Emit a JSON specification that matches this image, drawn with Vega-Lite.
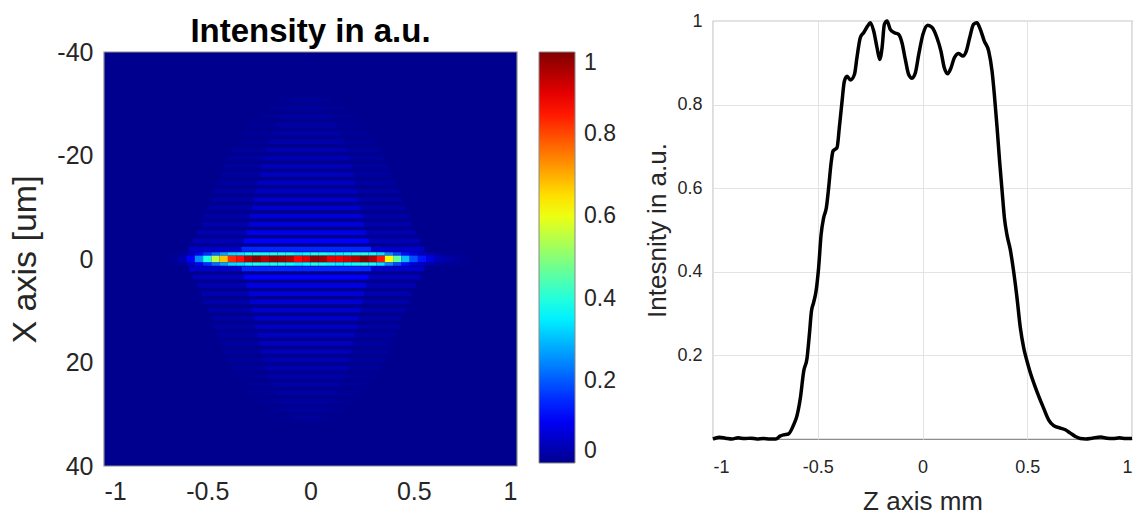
{
"$schema":"https://vega.github.io/schema/vega-lite/v6.json",
"padding":{"left":8,"top":11,"right":5,"bottom":5},
"background":"white",
"spacing":-3,
"resolve":{"scale":{"color":"independent"},"legend":{"color":"independent"}},
"config":{"font":"Liberation Sans","view":{"stroke":"#8c8c8c","strokeWidth":1.2},"axis":{"labelColor":"#262626","titleColor":"#262626","domain":false,"ticks":false}},
"datasets":{
"heat":[
{"z0":-1,"z1":1,"x0":-40,"x1":40,"v":0},
{"z0":-0.59,"z1":-0.334,"x0":-2.35,"x1":-1.45,"v":0.06},{"z0":-0.334,"z1":0.294,"x0":-2.35,"x1":-1.45,"v":0.15},{"z0":0.294,"z1":0.55,"x0":-2.35,"x1":-1.45,"v":0.06},
{"z0":-0.59,"z1":-0.334,"x0":1.45,"x1":2.35,"v":0.06},{"z0":-0.334,"z1":0.294,"x0":1.45,"x1":2.35,"v":0.15},{"z0":0.294,"z1":0.55,"x0":1.45,"x1":2.35,"v":0.06},
{"z0":-0.57,"z1":-0.323,"x0":-3.95,"x1":-3.05,"v":0.042},{"z0":-0.323,"z1":0.283,"x0":-3.95,"x1":-3.05,"v":0.108},{"z0":0.283,"z1":0.53,"x0":-3.95,"x1":-3.05,"v":0.042},
{"z0":-0.57,"z1":-0.323,"x0":3.05,"x1":3.95,"v":0.042},{"z0":-0.323,"z1":0.283,"x0":3.05,"x1":3.95,"v":0.108},{"z0":0.283,"z1":0.53,"x0":3.05,"x1":3.95,"v":0.042},
{"z0":-0.55,"z1":-0.31,"x0":-5.55,"x1":-4.65,"v":0.034},{"z0":-0.31,"z1":0.27,"x0":-5.55,"x1":-4.65,"v":0.084},{"z0":0.27,"z1":0.51,"x0":-5.55,"x1":-4.65,"v":0.034},
{"z0":-0.55,"z1":-0.31,"x0":4.65,"x1":5.55,"v":0.034},{"z0":-0.31,"z1":0.27,"x0":4.65,"x1":5.55,"v":0.084},{"z0":0.27,"z1":0.51,"x0":4.65,"x1":5.55,"v":0.034},
{"z0":-0.53,"z1":-0.3,"x0":-7.15,"x1":-6.25,"v":0.029},{"z0":-0.3,"z1":0.26,"x0":-7.15,"x1":-6.25,"v":0.072},{"z0":0.26,"z1":0.49,"x0":-7.15,"x1":-6.25,"v":0.029},
{"z0":-0.53,"z1":-0.3,"x0":6.25,"x1":7.15,"v":0.029},{"z0":-0.3,"z1":0.26,"x0":6.25,"x1":7.15,"v":0.072},{"z0":0.26,"z1":0.49,"x0":6.25,"x1":7.15,"v":0.029},
{"z0":-0.52,"z1":-0.295,"x0":-8.75,"x1":-7.85,"v":0.026},{"z0":-0.295,"z1":0.255,"x0":-8.75,"x1":-7.85,"v":0.066},{"z0":0.255,"z1":0.48,"x0":-8.75,"x1":-7.85,"v":0.026},
{"z0":-0.52,"z1":-0.295,"x0":7.85,"x1":8.75,"v":0.026},{"z0":-0.295,"z1":0.255,"x0":7.85,"x1":8.75,"v":0.066},{"z0":0.255,"z1":0.48,"x0":7.85,"x1":8.75,"v":0.026},
{"z0":-0.5,"z1":-0.284,"x0":-10.35,"x1":-9.45,"v":0.024},{"z0":-0.284,"z1":0.244,"x0":-10.35,"x1":-9.45,"v":0.06},{"z0":0.244,"z1":0.46,"x0":-10.35,"x1":-9.45,"v":0.024},
{"z0":-0.5,"z1":-0.284,"x0":9.45,"x1":10.35,"v":0.024},{"z0":-0.284,"z1":0.244,"x0":9.45,"x1":10.35,"v":0.06},{"z0":0.244,"z1":0.46,"x0":9.45,"x1":10.35,"v":0.024},
{"z0":-0.48,"z1":-0.273,"x0":-11.95,"x1":-11.05,"v":0.022},{"z0":-0.273,"z1":0.233,"x0":-11.95,"x1":-11.05,"v":0.056},{"z0":0.233,"z1":0.44,"x0":-11.95,"x1":-11.05,"v":0.022},
{"z0":-0.48,"z1":-0.273,"x0":11.05,"x1":11.95,"v":0.022},{"z0":-0.273,"z1":0.233,"x0":11.05,"x1":11.95,"v":0.056},{"z0":0.233,"z1":0.44,"x0":11.05,"x1":11.95,"v":0.022},
{"z0":-0.47,"z1":-0.268,"x0":-13.55,"x1":-12.65,"v":0.02},{"z0":-0.268,"z1":0.228,"x0":-13.55,"x1":-12.65,"v":0.053},{"z0":0.228,"z1":0.43,"x0":-13.55,"x1":-12.65,"v":0.02},
{"z0":-0.47,"z1":-0.268,"x0":12.65,"x1":13.55,"v":0.02},{"z0":-0.268,"z1":0.228,"x0":12.65,"x1":13.55,"v":0.053},{"z0":0.228,"z1":0.43,"x0":12.65,"x1":13.55,"v":0.02},
{"z0":-0.45,"z1":-0.257,"x0":-15.15,"x1":-14.25,"v":0.019},{"z0":-0.257,"z1":0.217,"x0":-15.15,"x1":-14.25,"v":0.049},{"z0":0.217,"z1":0.41,"x0":-15.15,"x1":-14.25,"v":0.019},
{"z0":-0.45,"z1":-0.257,"x0":14.25,"x1":15.15,"v":0.019},{"z0":-0.257,"z1":0.217,"x0":14.25,"x1":15.15,"v":0.049},{"z0":0.217,"z1":0.41,"x0":14.25,"x1":15.15,"v":0.019},
{"z0":-0.43,"z1":-0.246,"x0":-16.75,"x1":-15.85,"v":0.018},{"z0":-0.246,"z1":0.206,"x0":-16.75,"x1":-15.85,"v":0.046},{"z0":0.206,"z1":0.39,"x0":-16.75,"x1":-15.85,"v":0.018},
{"z0":-0.43,"z1":-0.246,"x0":15.85,"x1":16.75,"v":0.018},{"z0":-0.246,"z1":0.206,"x0":15.85,"x1":16.75,"v":0.046},{"z0":0.206,"z1":0.39,"x0":15.85,"x1":16.75,"v":0.018},
{"z0":-0.42,"z1":-0.24,"x0":-18.35,"x1":-17.45,"v":0.014},{"z0":-0.24,"z1":0.2,"x0":-18.35,"x1":-17.45,"v":0.04},{"z0":0.2,"z1":0.38,"x0":-18.35,"x1":-17.45,"v":0.014},
{"z0":-0.42,"z1":-0.24,"x0":17.45,"x1":18.35,"v":0.014},{"z0":-0.24,"z1":0.2,"x0":17.45,"x1":18.35,"v":0.04},{"z0":0.2,"z1":0.38,"x0":17.45,"x1":18.35,"v":0.014},
{"z0":-0.4,"z1":-0.229,"x0":-19.95,"x1":-19.05,"v":0.013},{"z0":-0.229,"z1":0.189,"x0":-19.95,"x1":-19.05,"v":0.036},{"z0":0.189,"z1":0.36,"x0":-19.95,"x1":-19.05,"v":0.013},
{"z0":-0.4,"z1":-0.229,"x0":19.05,"x1":19.95,"v":0.013},{"z0":-0.229,"z1":0.189,"x0":19.05,"x1":19.95,"v":0.036},{"z0":0.189,"z1":0.36,"x0":19.05,"x1":19.95,"v":0.013},
{"z0":-0.38,"z1":-0.218,"x0":-21.55,"x1":-20.65,"v":0.012},{"z0":-0.218,"z1":0.178,"x0":-21.55,"x1":-20.65,"v":0.032},{"z0":0.178,"z1":0.34,"x0":-21.55,"x1":-20.65,"v":0.012},
{"z0":-0.38,"z1":-0.218,"x0":20.65,"x1":21.55,"v":0.012},{"z0":-0.218,"z1":0.178,"x0":20.65,"x1":21.55,"v":0.032},{"z0":0.178,"z1":0.34,"x0":20.65,"x1":21.55,"v":0.012},
{"z0":-0.35,"z1":-0.2,"x0":-23.15,"x1":-22.25,"v":0.01},{"z0":-0.2,"z1":0.16,"x0":-23.15,"x1":-22.25,"v":0.028},{"z0":0.16,"z1":0.31,"x0":-23.15,"x1":-22.25,"v":0.01},
{"z0":-0.35,"z1":-0.2,"x0":22.25,"x1":23.15,"v":0.01},{"z0":-0.2,"z1":0.16,"x0":22.25,"x1":23.15,"v":0.028},{"z0":0.16,"z1":0.31,"x0":22.25,"x1":23.15,"v":0.01},
{"z0":-0.32,"z1":-0.185,"x0":-24.75,"x1":-23.85,"v":0.009},{"z0":-0.185,"z1":0.145,"x0":-24.75,"x1":-23.85,"v":0.024},{"z0":0.145,"z1":0.28,"x0":-24.75,"x1":-23.85,"v":0.009},
{"z0":-0.32,"z1":-0.185,"x0":23.85,"x1":24.75,"v":0.009},{"z0":-0.185,"z1":0.145,"x0":23.85,"x1":24.75,"v":0.024},{"z0":0.145,"z1":0.28,"x0":23.85,"x1":24.75,"v":0.009},
{"z0":-0.29,"z1":-0.169,"x0":-26.35,"x1":-25.45,"v":0.008},{"z0":-0.169,"z1":0.129,"x0":-26.35,"x1":-25.45,"v":0.02},{"z0":0.129,"z1":0.25,"x0":-26.35,"x1":-25.45,"v":0.008},
{"z0":-0.29,"z1":-0.169,"x0":25.45,"x1":26.35,"v":0.008},{"z0":-0.169,"z1":0.129,"x0":25.45,"x1":26.35,"v":0.02},{"z0":0.129,"z1":0.25,"x0":25.45,"x1":26.35,"v":0.008},
{"z0":-0.25,"z1":-0.147,"x0":-27.95,"x1":-27.05,"v":0.007},{"z0":-0.147,"z1":0.107,"x0":-27.95,"x1":-27.05,"v":0.017},{"z0":0.107,"z1":0.21,"x0":-27.95,"x1":-27.05,"v":0.007},
{"z0":-0.25,"z1":-0.147,"x0":27.05,"x1":27.95,"v":0.007},{"z0":-0.147,"z1":0.107,"x0":27.05,"x1":27.95,"v":0.017},{"z0":0.107,"z1":0.21,"x0":27.05,"x1":27.95,"v":0.007},
{"z0":-0.2,"z1":-0.119,"x0":-29.55,"x1":-28.65,"v":0.006},{"z0":-0.119,"z1":0.079,"x0":-29.55,"x1":-28.65,"v":0.014},{"z0":0.079,"z1":0.16,"x0":-29.55,"x1":-28.65,"v":0.006},
{"z0":-0.2,"z1":-0.119,"x0":28.65,"x1":29.55,"v":0.006},{"z0":-0.119,"z1":0.079,"x0":28.65,"x1":29.55,"v":0.014},{"z0":0.079,"z1":0.16,"x0":28.65,"x1":29.55,"v":0.006},
{"z0":-0.14,"z1":-0.086,"x0":-31.15,"x1":-30.25,"v":0.005},{"z0":-0.086,"z1":0.046,"x0":-31.15,"x1":-30.25,"v":0.011},{"z0":0.046,"z1":0.1,"x0":-31.15,"x1":-30.25,"v":0.005},
{"z0":-0.14,"z1":-0.086,"x0":30.25,"x1":31.15,"v":0.005},{"z0":-0.086,"z1":0.046,"x0":30.25,"x1":31.15,"v":0.011},{"z0":0.046,"z1":0.1,"x0":30.25,"x1":31.15,"v":0.005},
{"z0":-0.68,"z1":-0.64,"x0":-1.3,"x1":-0.65,"v":0.004},{"z0":-0.68,"z1":-0.64,"x0":-0.65,"x1":0.65,"v":0.01},{"z0":-0.68,"z1":-0.64,"x0":0.65,"x1":1.3,"v":0.004},
{"z0":-0.64,"z1":-0.6,"x0":-1.3,"x1":-0.65,"v":0.012},{"z0":-0.64,"z1":-0.6,"x0":-0.65,"x1":0.65,"v":0.03},{"z0":-0.64,"z1":-0.6,"x0":0.65,"x1":1.3,"v":0.012},
{"z0":-0.6,"z1":-0.56,"x0":-1.3,"x1":-0.65,"v":0.044},{"z0":-0.6,"z1":-0.56,"x0":-0.65,"x1":0.65,"v":0.11},{"z0":-0.6,"z1":-0.56,"x0":0.65,"x1":1.3,"v":0.044},
{"z0":-0.56,"z1":-0.52,"x0":-1.3,"x1":-0.65,"v":0.1},{"z0":-0.56,"z1":-0.52,"x0":-0.65,"x1":0.65,"v":0.25},{"z0":-0.56,"z1":-0.52,"x0":0.65,"x1":1.3,"v":0.1},
{"z0":-0.52,"z1":-0.48,"x0":-1.3,"x1":-0.65,"v":0.156},{"z0":-0.52,"z1":-0.48,"x0":-0.65,"x1":0.65,"v":0.39},{"z0":-0.52,"z1":-0.48,"x0":0.65,"x1":1.3,"v":0.156},
{"z0":-0.48,"z1":-0.44,"x0":-1.3,"x1":-0.65,"v":0.22},{"z0":-0.48,"z1":-0.44,"x0":-0.65,"x1":0.65,"v":0.55},{"z0":-0.48,"z1":-0.44,"x0":0.65,"x1":1.3,"v":0.22},
{"z0":-0.44,"z1":-0.4,"x0":-1.3,"x1":-0.65,"v":0.272},{"z0":-0.44,"z1":-0.4,"x0":-0.65,"x1":0.65,"v":0.68},{"z0":-0.44,"z1":-0.4,"x0":0.65,"x1":1.3,"v":0.272},
{"z0":-0.4,"z1":-0.36,"x0":-1.3,"x1":-0.65,"v":0.332},{"z0":-0.4,"z1":-0.36,"x0":-0.65,"x1":0.65,"v":0.83},{"z0":-0.4,"z1":-0.36,"x0":0.65,"x1":1.3,"v":0.332},
{"z0":-0.36,"z1":-0.32,"x0":-1.3,"x1":-0.65,"v":0.344},{"z0":-0.36,"z1":-0.32,"x0":-0.65,"x1":0.65,"v":0.86},{"z0":-0.36,"z1":-0.32,"x0":0.65,"x1":1.3,"v":0.344},
{"z0":-0.32,"z1":-0.28,"x0":-1.3,"x1":-0.65,"v":0.38},{"z0":-0.32,"z1":-0.28,"x0":-0.65,"x1":0.65,"v":0.95},{"z0":-0.32,"z1":-0.28,"x0":0.65,"x1":1.3,"v":0.38},
{"z0":-0.28,"z1":-0.24,"x0":-1.3,"x1":-0.65,"v":0.396},{"z0":-0.28,"z1":-0.24,"x0":-0.65,"x1":0.65,"v":0.99},{"z0":-0.28,"z1":-0.24,"x0":0.65,"x1":1.3,"v":0.396},
{"z0":-0.24,"z1":-0.2,"x0":-1.3,"x1":-0.65,"v":0.376},{"z0":-0.24,"z1":-0.2,"x0":-0.65,"x1":0.65,"v":0.94},{"z0":-0.24,"z1":-0.2,"x0":0.65,"x1":1.3,"v":0.376},
{"z0":-0.2,"z1":-0.16,"x0":-1.3,"x1":-0.65,"v":0.392},{"z0":-0.2,"z1":-0.16,"x0":-0.65,"x1":0.65,"v":0.98},{"z0":-0.2,"z1":-0.16,"x0":0.65,"x1":1.3,"v":0.392},
{"z0":-0.16,"z1":-0.12,"x0":-1.3,"x1":-0.65,"v":0.388},{"z0":-0.16,"z1":-0.12,"x0":-0.65,"x1":0.65,"v":0.97},{"z0":-0.16,"z1":-0.12,"x0":0.65,"x1":1.3,"v":0.388},
{"z0":-0.12,"z1":-0.08,"x0":-1.3,"x1":-0.65,"v":0.38},{"z0":-0.12,"z1":-0.08,"x0":-0.65,"x1":0.65,"v":0.95},{"z0":-0.12,"z1":-0.08,"x0":0.65,"x1":1.3,"v":0.38},
{"z0":-0.08,"z1":-0.04,"x0":-1.3,"x1":-0.65,"v":0.348},{"z0":-0.08,"z1":-0.04,"x0":-0.65,"x1":0.65,"v":0.87},{"z0":-0.08,"z1":-0.04,"x0":0.65,"x1":1.3,"v":0.348},
{"z0":-0.04,"z1":0,"x0":-1.3,"x1":-0.65,"v":0.364},{"z0":-0.04,"z1":0,"x0":-0.65,"x1":0.65,"v":0.91},{"z0":-0.04,"z1":0,"x0":0.65,"x1":1.3,"v":0.364},
{"z0":0,"z1":0.04,"x0":-1.3,"x1":-0.65,"v":0.394},{"z0":0,"z1":0.04,"x0":-0.65,"x1":0.65,"v":0.985},{"z0":0,"z1":0.04,"x0":0.65,"x1":1.3,"v":0.394},
{"z0":0.04,"z1":0.08,"x0":-1.3,"x1":-0.65,"v":0.388},{"z0":0.04,"z1":0.08,"x0":-0.65,"x1":0.65,"v":0.97},{"z0":0.04,"z1":0.08,"x0":0.65,"x1":1.3,"v":0.388},
{"z0":0.08,"z1":0.12,"x0":-1.3,"x1":-0.65,"v":0.36},{"z0":0.08,"z1":0.12,"x0":-0.65,"x1":0.65,"v":0.9},{"z0":0.08,"z1":0.12,"x0":0.65,"x1":1.3,"v":0.36},
{"z0":0.12,"z1":0.16,"x0":-1.3,"x1":-0.65,"v":0.356},{"z0":0.12,"z1":0.16,"x0":-0.65,"x1":0.65,"v":0.89},{"z0":0.12,"z1":0.16,"x0":0.65,"x1":1.3,"v":0.356},
{"z0":0.16,"z1":0.2,"x0":-1.3,"x1":-0.65,"v":0.368},{"z0":0.16,"z1":0.2,"x0":-0.65,"x1":0.65,"v":0.92},{"z0":0.16,"z1":0.2,"x0":0.65,"x1":1.3,"v":0.368},
{"z0":0.2,"z1":0.24,"x0":-1.3,"x1":-0.65,"v":0.38},{"z0":0.2,"z1":0.24,"x0":-0.65,"x1":0.65,"v":0.95},{"z0":0.2,"z1":0.24,"x0":0.65,"x1":1.3,"v":0.38},
{"z0":0.24,"z1":0.28,"x0":-1.3,"x1":-0.65,"v":0.398},{"z0":0.24,"z1":0.28,"x0":-0.65,"x1":0.65,"v":0.995},{"z0":0.24,"z1":0.28,"x0":0.65,"x1":1.3,"v":0.398},
{"z0":0.28,"z1":0.32,"x0":-1.3,"x1":-0.65,"v":0.38},{"z0":0.28,"z1":0.32,"x0":-0.65,"x1":0.65,"v":0.95},{"z0":0.28,"z1":0.32,"x0":0.65,"x1":1.3,"v":0.38},
{"z0":0.32,"z1":0.36,"x0":-1.3,"x1":-0.65,"v":0.34},{"z0":0.32,"z1":0.36,"x0":-0.65,"x1":0.65,"v":0.85},{"z0":0.32,"z1":0.36,"x0":0.65,"x1":1.3,"v":0.34},
{"z0":0.36,"z1":0.4,"x0":-1.3,"x1":-0.65,"v":0.248},{"z0":0.36,"z1":0.4,"x0":-0.65,"x1":0.65,"v":0.62},{"z0":0.36,"z1":0.4,"x0":0.65,"x1":1.3,"v":0.248},
{"z0":0.4,"z1":0.44,"x0":-1.3,"x1":-0.65,"v":0.184},{"z0":0.4,"z1":0.44,"x0":-0.65,"x1":0.65,"v":0.46},{"z0":0.4,"z1":0.44,"x0":0.65,"x1":1.3,"v":0.184},
{"z0":0.44,"z1":0.48,"x0":-1.3,"x1":-0.65,"v":0.12},{"z0":0.44,"z1":0.48,"x0":-0.65,"x1":0.65,"v":0.3},{"z0":0.44,"z1":0.48,"x0":0.65,"x1":1.3,"v":0.12},
{"z0":0.48,"z1":0.52,"x0":-1.3,"x1":-0.65,"v":0.076},{"z0":0.48,"z1":0.52,"x0":-0.65,"x1":0.65,"v":0.19},{"z0":0.48,"z1":0.52,"x0":0.65,"x1":1.3,"v":0.076},
{"z0":0.52,"z1":0.56,"x0":-1.3,"x1":-0.65,"v":0.052},{"z0":0.52,"z1":0.56,"x0":-0.65,"x1":0.65,"v":0.13},{"z0":0.52,"z1":0.56,"x0":0.65,"x1":1.3,"v":0.052},
{"z0":0.56,"z1":0.6,"x0":-1.3,"x1":-0.65,"v":0.03},{"z0":0.56,"z1":0.6,"x0":-0.65,"x1":0.65,"v":0.075},{"z0":0.56,"z1":0.6,"x0":0.65,"x1":1.3,"v":0.03},
{"z0":0.6,"z1":0.64,"x0":-1.3,"x1":-0.65,"v":0.016},{"z0":0.6,"z1":0.64,"x0":-0.65,"x1":0.65,"v":0.04},{"z0":0.6,"z1":0.64,"x0":0.65,"x1":1.3,"v":0.016},
{"z0":0.64,"z1":0.68,"x0":-1.3,"x1":-0.65,"v":0.01},{"z0":0.64,"z1":0.68,"x0":-0.65,"x1":0.65,"v":0.026},{"z0":0.64,"z1":0.68,"x0":0.65,"x1":1.3,"v":0.01},
{"z0":0.68,"z1":0.72,"x0":-1.3,"x1":-0.65,"v":0.006},{"z0":0.68,"z1":0.72,"x0":-0.65,"x1":0.65,"v":0.015},{"z0":0.68,"z1":0.72,"x0":0.65,"x1":1.3,"v":0.006},
{"z0":0.72,"z1":0.76,"x0":-1.3,"x1":-0.65,"v":0.003},{"z0":0.72,"z1":0.76,"x0":-0.65,"x1":0.65,"v":0.008},{"z0":0.72,"z1":0.76,"x0":0.65,"x1":1.3,"v":0.003}
],
"profile":[
{"z":-1,"I":0},{"z":-0.97,"I":0.004},{"z":-0.94,"I":0.002},{"z":-0.91,"I":0},{"z":-0.88,"I":0.003},{"z":-0.85,"I":0.001},{"z":-0.82,"I":0.002},{"z":-0.79,"I":0},{"z":-0.76,"I":0.001},{"z":-0.73,"I":0},{"z":-0.7,"I":0},{"z":-0.68,"I":0.007},{"z":-0.663,"I":0.01},{"z":-0.64,"I":0.012},{"z":-0.615,"I":0.034},{"z":-0.6,"I":0.054},{"z":-0.583,"I":0.098},{"z":-0.567,"I":0.162},{"z":-0.551,"I":0.194},{"z":-0.54,"I":0.25},{"z":-0.53,"I":0.306},{"z":-0.52,"I":0.326},{"z":-0.508,"I":0.354},{"z":-0.496,"I":0.409},{"z":-0.484,"I":0.489},{"z":-0.472,"I":0.529},{"z":-0.459,"I":0.553},{"z":-0.448,"I":0.601},{"z":-0.437,"I":0.657},{"z":-0.427,"I":0.689},{"z":-0.408,"I":0.697},{"z":-0.397,"I":0.745},{"z":-0.384,"I":0.808},{"z":-0.373,"I":0.856},{"z":-0.36,"I":0.868},{"z":-0.344,"I":0.859},{"z":-0.325,"I":0.872},{"z":-0.313,"I":0.912},{"z":-0.297,"I":0.96},{"z":-0.281,"I":0.972},{"z":-0.262,"I":0.988},{"z":-0.249,"I":0.996},{"z":-0.233,"I":0.976},{"z":-0.217,"I":0.936},{"z":-0.204,"I":0.908},{"z":-0.193,"I":0.936},{"z":-0.182,"I":0.992},{"z":-0.169,"I":1},{"z":-0.154,"I":0.98},{"z":-0.134,"I":0.972},{"z":-0.114,"I":0.968},{"z":-0.098,"I":0.948},{"z":-0.082,"I":0.908},{"z":-0.066,"I":0.872},{"z":-0.05,"I":0.863},{"z":-0.034,"I":0.876},{"z":-0.018,"I":0.92},{"z":0.002,"I":0.968},{"z":0.025,"I":0.99},{"z":0.045,"I":0.985},{"z":0.069,"I":0.96},{"z":0.088,"I":0.928},{"z":0.104,"I":0.888},{"z":0.12,"I":0.874},{"z":0.136,"I":0.888},{"z":0.152,"I":0.912},{"z":0.173,"I":0.922},{"z":0.193,"I":0.916},{"z":0.209,"I":0.928},{"z":0.225,"I":0.96},{"z":0.244,"I":0.992},{"z":0.26,"I":0.996},{"z":0.276,"I":0.98},{"z":0.295,"I":0.952},{"z":0.316,"I":0.928},{"z":0.332,"I":0.88},{"z":0.343,"I":0.824},{"z":0.356,"I":0.745},{"z":0.368,"I":0.665},{"z":0.38,"I":0.593},{"z":0.391,"I":0.529},{"z":0.403,"I":0.489},{"z":0.419,"I":0.453},{"z":0.435,"I":0.401},{"z":0.451,"I":0.338},{"z":0.467,"I":0.266},{"z":0.483,"I":0.218},{"z":0.499,"I":0.186},{"z":0.515,"I":0.158},{"z":0.534,"I":0.13},{"z":0.555,"I":0.102},{"z":0.578,"I":0.074},{"z":0.602,"I":0.046},{"z":0.626,"I":0.032},{"z":0.658,"I":0.026},{"z":0.682,"I":0.022},{"z":0.706,"I":0.014},{"z":0.73,"I":0.006},{"z":0.753,"I":0.001},{"z":0.78,"I":0},{"z":0.81,"I":0.002},{"z":0.85,"I":0.005},{"z":0.88,"I":0.002},{"z":0.91,"I":0.001},{"z":0.94,"I":0.003},{"z":0.97,"I":0.001},{"z":1,"I":0.001}
],
"frame":[{"z0":-1,"z1":1,"x0":-40,"x1":40}]
},
"hconcat":[
{
"width":413,"height":445,
"view":{"stroke":null},
"title":{"text":"Intensity in a.u.","fontSize":33,"fontWeight":"bold","color":"#000000","offset":-28},
"layer":[
{
"data":{"name":"heat"},
"mark":{"type":"rect"},
"encoding":{
"x":{"field":"z0","type":"quantitative","scale":{"domain":[-1,1],"nice":false,"zero":false},"axis":{"values":[-1,-0.5,0,0.5,1],"labelExpr":"''+datum.value","labelFontSize":25,"labelPadding":13,"title":null,"grid":false}},
"x2":{"field":"z1"},
"y":{"field":"x0","type":"quantitative","scale":{"domain":[-40,40],"range":[31,445],"nice":false,"zero":false},"axis":{"values":[-40,-20,0,20,40],"labelExpr":"''+datum.value","labelFontSize":25,"labelPadding":11,"title":"X axis [um]","titleFontSize":34,"titleFontWeight":"normal","titlePadding":14,"grid":false}},
"y2":{"field":"x1"},
"color":{"field":"v","type":"quantitative","scale":{"domain":[0,0.111,0.365,0.619,0.873,1],"range":["#00008f","#0000ff","#00ffff","#ffff00","#ff0000","#800000"],"interpolate":"rgb"},"legend":{"type":"gradient","title":null,"orient":"right","direction":"vertical","offset":-9,"padding":31,"gradientLength":411,"gradientThickness":36,"values":[0,0.2,0.4,0.6,0.8,1],"labelExpr":"''+datum.value","labelFontSize":23,"labelOffset":9,"labelColor":"#262626","gradientStrokeColor":"#888888","gradientStrokeWidth":1}}
}
},
{
"data":{"name":"frame"},
"mark":{"type":"rect","fill":"transparent","stroke":"#8c8c8c","strokeWidth":1.2},
"encoding":{
"x":{"field":"z0","type":"quantitative"},
"x2":{"field":"z1"},
"y":{"field":"x0","type":"quantitative"},
"y2":{"field":"x1"}
}
}
]
},
{
"width":419,"height":418,
"data":{"name":"profile"},
"mark":{"type":"line","color":"#000000","strokeWidth":3.5,"interpolate":"monotone"},
"encoding":{
"x":{"field":"z","type":"quantitative","scale":{"domain":[-1,1],"nice":false,"zero":false},"axis":{"values":[-1,-0.5,0,0.5,1],"labelExpr":"''+datum.value","labelFontSize":18,"labelPadding":19,"title":"Z axis mm","titleFontSize":26,"titleFontWeight":"normal","titlePadding":12,"grid":true,"gridColor":"#e3e3e3"}},
"y":{"field":"I","type":"quantitative","scale":{"domain":[0,1],"nice":false,"zero":false},"axis":{"values":[0.2,0.4,0.6,0.8,1],"labelExpr":"''+datum.value","labelFontSize":18,"labelPadding":11,"title":"Intesnity in a.u.","titleFontSize":26,"titleFontWeight":"normal","titlePadding":6,"grid":true,"gridColor":"#e3e3e3"}}
}
}
]
}
